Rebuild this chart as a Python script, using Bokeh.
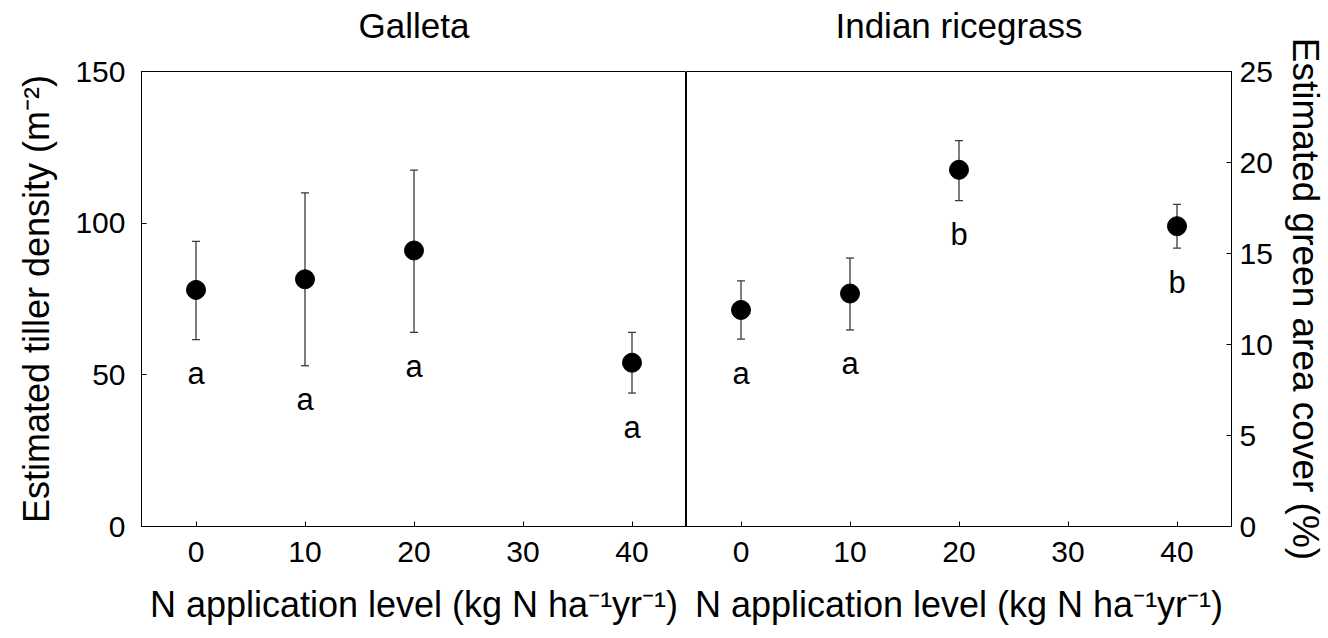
from bokeh.plotting import figure
from bokeh.layouts import row
from bokeh.models import ColumnDataSource, Whisker, TeeHead, Range1d, FixedTicker
from bokeh.core.properties import value
from bokeh.embed import file_html
from bokeh.resources import INLINE

# ---- data ----
n_levels = [0, 10, 20, 40]
x_ticks = [0, 10, 20, 30, 40]

galleta_mean = [78, 81.5, 91, 54]
galleta_upper = [94, 110, 117.5, 64]
galleta_lower = [61.6, 53, 64, 44]
galleta_letters = ["a", "a", "a", "a"]

rice_mean = [11.9, 12.8, 19.6, 16.5]
rice_upper = [13.5, 14.75, 21.2, 17.7]
rice_lower = [10.3, 10.8, 17.9, 15.3]
rice_letters = ["a", "a", "b", "b"]

titles = ["Galleta", "Indian ricegrass"]
left_ticks = [0, 50, 100, 150]
right_ticks = [0, 5, 10, 15, 20, 25]

FONT = "Liberation Sans"
TICK_FS = "30px"
LABEL_FS = "36px"
xlabel = "N application level (kg N ha\u207b\u00b9yr\u207b\u00b9)"


def style(p, title):
    p.title.visible = False
    p.xgrid.visible = False
    p.ygrid.visible = False
    p.outline_line_color = "black"
    p.outline_line_alpha = 1
    p.outline_line_width = 1
    p.background_fill_color = "white"
    p.border_fill_color = "white"
    for ax in p.axis:
        ax.major_label_text_font = FONT
        ax.major_label_text_font_size = TICK_FS
        ax.major_label_text_color = "black"
        ax.axis_label_text_font = FONT
        ax.axis_label_text_font_size = LABEL_FS
        ax.axis_label_text_font_style = "normal"
        ax.axis_label_text_color = "black"
        ax.axis_line_color = "black"
        ax.major_tick_line_color = "black"
        ax.major_tick_in = 5
        ax.major_tick_out = 0
        ax.minor_tick_line_color = None
    p.xaxis.ticker = FixedTicker(ticks=x_ticks)
    p.xaxis.axis_label = xlabel
    p.xaxis.major_label_standoff = 15
    p.xaxis.axis_label_standoff = 19
    # panel title drawn above the frame (overlay level is not clipped)
    xr, yr = p.x_range, p.y_range
    tsrc = ColumnDataSource(dict(x=[(xr.start + xr.end) / 2], y=[yr.end], t=[title]))
    p.text("x", "y", text="t", source=tsrc, y_offset=-46, level="overlay",
           text_align="center", text_baseline="middle",
           text_font=value(FONT), text_font_size="35px", text_color="black")


def add_series(p, mean, upper, lower, letters):
    src = ColumnDataSource(dict(x=n_levels, y=mean, up=upper, lo=lower, lab=letters))
    w = Whisker(source=src, base="x", upper="up", lower="lo",
                line_color="#3a3a3a", line_width=1.3,
                upper_head=TeeHead(size=8, line_color="#3a3a3a", line_width=1.3),
                lower_head=TeeHead(size=8, line_color="#3a3a3a", line_width=1.3))
    p.add_layout(w)
    p.scatter("x", "y", source=src, size=19, color="black")
    p.text("x", "lo", text="lab", source=src, y_offset=34,
           text_align="center", text_baseline="alphabetic",
           text_font=value(FONT), text_font_size="31px", text_color="black")


p1 = figure(width=686, height=636, x_range=Range1d(-5, 45), y_range=Range1d(0, 150),
            output_backend="svg", toolbar_location=None,
            min_border_left=141, min_border_right=0, min_border_top=71, min_border_bottom=110)
style(p1, titles[0])
p1.yaxis.ticker = FixedTicker(ticks=left_ticks)
p1.yaxis.axis_label = "Estimated tiller density (m\u207b\u00b2)"
p1.yaxis.major_label_standoff = 16
p1.yaxis.axis_label_standoff = 15
add_series(p1, galleta_mean, galleta_upper, galleta_lower, galleta_letters)

p2 = figure(width=642, height=636, x_range=Range1d(-5, 45), y_range=Range1d(0, 25),
            y_axis_location="right",
            output_backend="svg", toolbar_location=None,
            min_border_left=0, min_border_right=97, min_border_top=71, min_border_bottom=110)
style(p2, titles[1])
p2.yaxis.ticker = FixedTicker(ticks=right_ticks)
p2.yaxis.axis_label = "Estimated green area cover (%)"
p2.yaxis.axis_label_text_font_size = "37px"
p2.yaxis.major_label_standoff = 8
p2.yaxis.axis_label_standoff = 9
add_series(p2, rice_mean, rice_upper, rice_lower, rice_letters)

layout = row(p1, p2, spacing=0)
open("out.html", "w").write(file_html(layout, INLINE))
